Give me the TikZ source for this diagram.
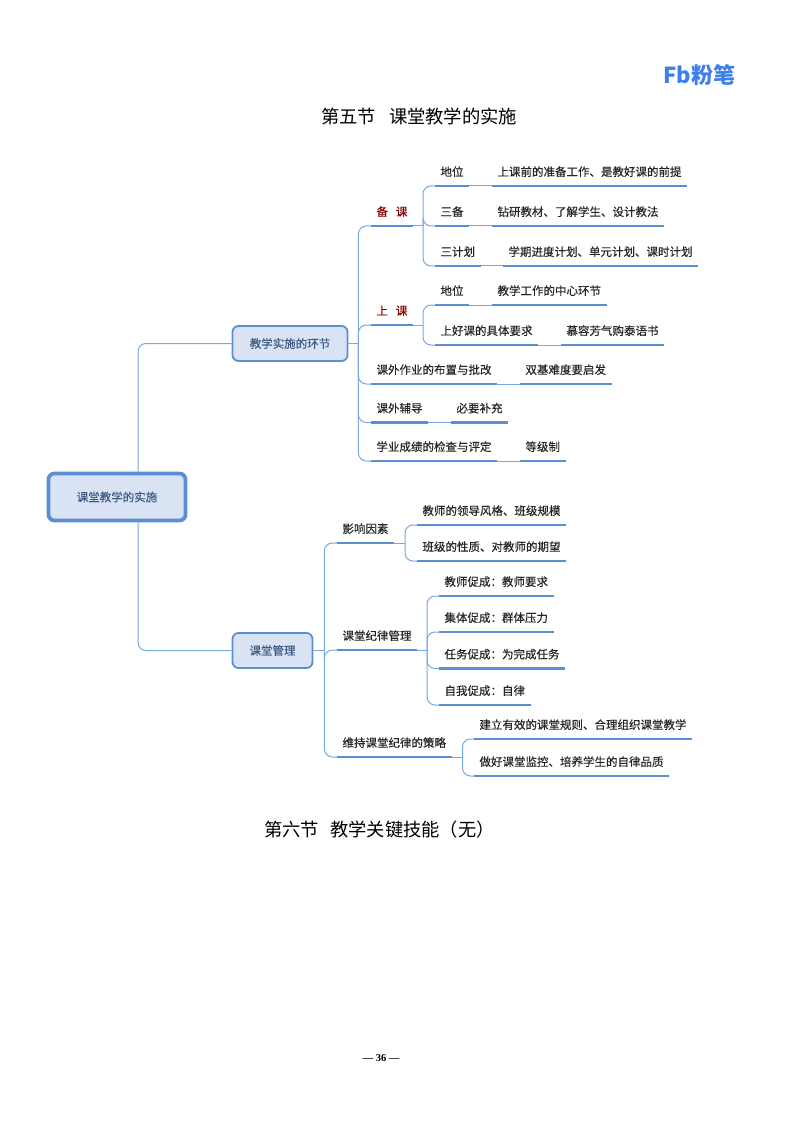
\documentclass[tikz,border=0pt]{standalone}
\usepackage{fontspec}
\setmainfont{Noto Sans CJK SC}
\newfontfamily\medfont[FakeBold=0.35]{Noto Sans CJK SC}
\newfontfamily\numfont{Liberation Serif}
\usetikzlibrary{positioning}

\definecolor{linkblue}{HTML}{7AA8E0}
\definecolor{barblue}{HTML}{5B8FD3}
\definecolor{boxfill}{HTML}{DAE3F3}
\definecolor{boxtext}{HTML}{3D5A85}
\definecolor{logoblue}{HTML}{3F7FEA}

\tikzset{
	x=1pt, y=-1pt,
	topic/.style={anchor=south west, inner xsep=5.3pt, inner ysep=7.75pt, text height=9.5pt, text depth=2pt, text=black!85, font=\fontsize{11.5}{14}\selectfont\medfont},
	redtopic/.style={topic, text=red!55!black},
	bar/.style={draw=barblue, line width=2.8pt},
	link/.style={draw=linkblue, line width=1pt, rounded corners=8pt},
	branchbox/.style={draw=barblue, line width=1.8pt, fill=boxfill, rounded corners=6pt, text=boxtext, font=\fontsize{11.5}{14}\selectfont\medfont, inner sep=0pt, minimum height=35pt},
	title/.style={anchor=west, font=\fontsize{18.3}{22}\selectfont, text=black, inner sep=0pt}
}

\begin{document}
\begin{tikzpicture}

	\useasboundingbox (0,0) rectangle (800,1131);

	\node [title] (titlefive) at (321,116) {第五节\hspace{13pt}课堂教学的实施};
	\node [title] (titlesix) at (264,830) {第六节\hspace{11pt}教学关键技能（无）};
	\node [inner sep=0pt, font=\fontsize{10.5}{12}\selectfont\numfont\bfseries] (pagenum) at (381,1058) {— 36 —};
	\node [inner sep=0pt, text=logoblue, font=\fontsize{22}{24}\selectfont\bfseries] (logo) at (699.5,75) {Fb粉笔};

	\node [branchbox, line width=3.8pt, minimum width=137pt, minimum height=47pt] (root) at (117,497) {课堂教学的实施};
	\node [branchbox, minimum width=115pt] (huanjie) at (290,343.5) {教学实施的环节};
	\node [branchbox, minimum width=80pt] (guanli) at (272.5,650.5) {课堂管理};

	\node [redtopic] (beike) at (371,226) {备\hspace{8pt}课};
	\node [topic] (bkdiwei) at (435,186) {地位};
	\node [topic] (bkdiweix) at (492,186) {上课前的准备工作、是教好课的前提};
	\node [topic] (sanbei) at (435,226) {三备};
	\node [topic] (sanbeix) at (492,226) {钻研教材、了解学生、设计教法};
	\node [topic] (sanjihua) at (435,266) {三计划};
	\node [topic] (sanjihuax) at (503,266) {学期进度计划、单元计划、课时计划};

	\node [redtopic] (shangke) at (371,325) {上\hspace{8pt}课};
	\node [topic] (skdiwei) at (435,305) {地位};
	\node [topic] (skdiweix) at (492,305) {教学工作的中心环节};
	\node [topic] (yaoqiu) at (435,345) {上好课的具体要求};
	\node [topic] (yaoqiux) at (561,345) {慕容芳气购泰语书};

	\node [topic] (zuoye) at (371,384) {课外作业的布置与批改};
	\node [topic] (zuoyex) at (520,384) {双基难度要启发};
	\node [topic] (fudao) at (371,422.5) {课外辅导};
	\node [topic] (fudaox) at (451,422.5) {必要补充};
	\node [topic] (pingding) at (371,461) {学业成绩的检查与评定};
	\node [topic] (pingdingx) at (520,461) {等级制};

	\node [topic] (yingxiang) at (337,543) {影响因素};
	\node [topic] (fengge) at (417,525) {教师的领导风格、班级规模};
	\node [topic] (xingzhi) at (417,561) {班级的性质、对教师的期望};

	\node [topic] (jilv) at (337,650) {课堂纪律管理};
	\node [topic] (jiaoshi) at (439,596) {教师促成：教师要求};
	\node [topic] (jiti) at (439,632) {集体促成：群体压力};
	\node [topic] (renwu) at (439,668.5) {任务促成：为完成任务};
	\node [topic] (ziwo) at (439,705) {自我促成：自律};

	\node [topic] (celue) at (337,757) {维持课堂纪律的策略};
	\node [topic] (guize) at (474,739) {建立有效的课堂规则、合理组织课堂教学};
	\node [topic] (jiankong) at (474,776) {做好课堂监控、培养学生的自律品质};

	\draw [link] ([xshift=21pt]root.north) |- (huanjie.west);
	\draw [link] ([xshift=21pt]root.south) |- (guanli.west);

	\draw [link] (huanjie.east) -- ++(10,0) coordinate (huanjiefork);
	\foreach \n in {beike,shangke,zuoye,fudao,pingding}
		\draw [link] (huanjiefork) |- (\n.south west);

	\draw [link] (guanli.east) -- ++(11,0) coordinate (guanlifork);
	\foreach \n in {yingxiang,jilv,celue}
		\draw [link] (guanlifork) |- (\n.south west);

	\draw [link] (beike.south east) -- ++(10,0) coordinate (beikefork);
	\foreach \n in {bkdiwei,sanbei,sanjihua}
		\draw [link] (beikefork) |- (\n.south west);

	\draw [link] (shangke.south east) -- ++(10,0) coordinate (shangkefork);
	\foreach \n in {skdiwei,yaoqiu}
		\draw [link] (shangkefork) |- (\n.south west);

	\draw [link] (yingxiang.south east) -- ++(11,0) coordinate (yingxiangfork);
	\foreach \n in {fengge,xingzhi}
		\draw [link] (yingxiangfork) |- (\n.south west);

	\draw [link] (jilv.south east) -- ++(10,0) coordinate (jilvfork);
	\foreach \n in {jiaoshi,jiti,renwu,ziwo}
		\draw [link] (jilvfork) |- (\n.south west);

	\draw [link] (celue.south east) -- ++(11,0) coordinate (celuefork);
	\foreach \n in {guize,jiankong}
		\draw [link] (celuefork) |- (\n.south west);

	\draw [link] (bkdiwei.south east) -- (bkdiweix.south west);
	\draw [link] (sanbei.south east) -- (sanbeix.south west);
	\draw [link] (sanjihua.south east) -- (sanjihuax.south west);
	\draw [link] (skdiwei.south east) -- (skdiweix.south west);
	\draw [link] (yaoqiu.south east) -- (yaoqiux.south west);
	\draw [link] (zuoye.south east) -- (zuoyex.south west);
	\draw [link] (fudao.south east) -- (fudaox.south west);
	\draw [link] (pingding.south east) -- (pingdingx.south west);

	\foreach \n in {beike,bkdiwei,bkdiweix,sanbei,sanbeix,sanjihua,sanjihuax,shangke,skdiwei,skdiweix,yaoqiu,yaoqiux,zuoye,zuoyex,fudao,fudaox,pingding,pingdingx,yingxiang,fengge,xingzhi,jilv,jiaoshi,jiti,renwu,ziwo,celue,guize,jiankong}
		\draw [bar] (\n.south west) -- (\n.south east);

\end{tikzpicture}
\end{document}
